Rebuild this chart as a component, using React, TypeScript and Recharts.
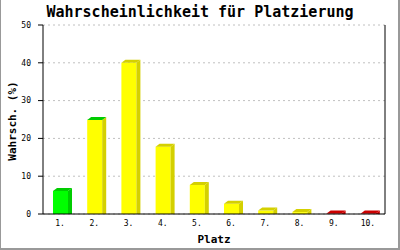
import React from 'react';
import { BarChart, Bar, XAxis, YAxis, CartesianGrid, Cell } from 'recharts';

const places = ['1.', '2.', '3.', '4.', '5.', '6.', '7.', '8.', '9.', '10.'];
const chances = [6.1, 24.9, 40.0, 17.8, 7.7, 2.7, 0.9, 0.5, 0.1, 0.1];
const yTicks = [0, 10, 20, 30, 40, 50];

const frontColors = ['#00ff00', '#ffff00', '#ffff00', '#ffff00', '#ffff00', '#ffff00', '#ffff00', '#ffff00', '#cc0000', '#cc0000'];
const sideColors = ['#00cc00', '#d4d000', '#d4d000', '#d4d000', '#d4d000', '#d4d000', '#d4d000', '#d4d000', '#cc0000', '#cc0000'];
const topColors = ['#00cc00', '#00cc00', '#d4d000', '#d4d000', '#d4d000', '#d4d000', '#d4d000', '#d4d000', '#cc0000', '#cc0000'];

const data = places.map((place, i) => ({ place, value: chances[i] }));

const mono = '"DejaVu Sans Mono", monospace';
const DX = 4;
const DY = 3;

const Bar3D = (props: any) => {
  const { x, y, width, height, index } = props;
  const w = width;
  const h = Math.max(height, 0);
  return (
    <g>
      <rect x={x} y={y} width={w} height={h} fill={frontColors[index]} />
      <polygon
        points={`${x + w},${y} ${x + w + DX},${y - DY} ${x + w + DX},${y + h} ${x + w},${y + h}`}
        fill={sideColors[index]}
      />
      <polygon
        points={`${x},${y} ${x + DX},${y - DY} ${x + w + DX},${y - DY} ${x + w},${y}`}
        fill={topColors[index]}
      />
    </g>
  );
};

export default function App() {
  return (
    <div style={{ position: 'fixed', left: 0, top: 0, width: 400, height: 250, background: '#fff' }}>
      <div
        style={{
          position: 'absolute',
          top: 3,
          left: 0,
          width: 400,
          textAlign: 'center',
          fontFamily: mono,
          fontSize: 15,
          fontWeight: 'bold',
          color: '#000',
        }}
      >
        Wahrscheinlichkeit für Platzierung
      </div>
      <BarChart
        width={400}
        height={250}
        data={data}
        margin={{ top: 25, right: 0, left: 0, bottom: 0 }}
        style={{ position: 'absolute', left: 0, top: 0 }}
      >
        <CartesianGrid vertical={false} stroke="#c0c0c0" strokeDasharray="2 3" yAxisId="left" />
        <XAxis
          dataKey="place"
          height={36}
          tickLine={false}
          tickSize={0}
          tickMargin={6}
          axisLine={{ stroke: '#000' }}
          tick={{ fill: '#000', fontSize: 8, fontFamily: mono }}
          interval={0}
          label={{
            content: () => (
              <text x={214} y={243} textAnchor="middle" fontFamily={mono} fontSize={11} fontWeight="bold" fill="#000">
                Platz
              </text>
            ),
          }}
        />
        <YAxis
          yAxisId="left"
          width={43}
          domain={[0, 50]}
          ticks={yTicks}
          tickSize={5}
          tickMargin={7}
          axisLine={{ stroke: '#000' }}
          tickLine={{ stroke: '#000' }}
          tick={{ fill: '#000', fontSize: 8, fontFamily: mono }}
          label={{
            content: () => (
              <text
                x={16}
                y={121}
                transform="rotate(-90, 16, 121)"
                textAnchor="middle"
                fontFamily={mono}
                fontSize={11}
                fontWeight="bold"
                fill="#000"
              >
                Wahrsch. (%)
              </text>
            ),
          }}
        />
        <YAxis
          yAxisId="right"
          orientation="right"
          width={15}
          domain={[0, 50]}
          tick={false}
          tickLine={false}
          axisLine={{ stroke: '#000' }}
        />
        <Bar yAxisId="left" dataKey="value" barSize={15} shape={Bar3D} isAnimationActive={false}>
          {data.map((d, i) => (
            <Cell key={d.place} fill={frontColors[i]} />
          ))}
        </Bar>
      </BarChart>
      <div
        style={{
          position: 'absolute',
          left: 0,
          top: 0,
          width: 400,
          height: 250,
          boxSizing: 'border-box',
          borderLeft: '1px solid #999',
          borderRight: '2px solid #999',
          borderBottom: '2px solid #999',
          pointerEvents: 'none',
        }}
      />
    </div>
  );
}
